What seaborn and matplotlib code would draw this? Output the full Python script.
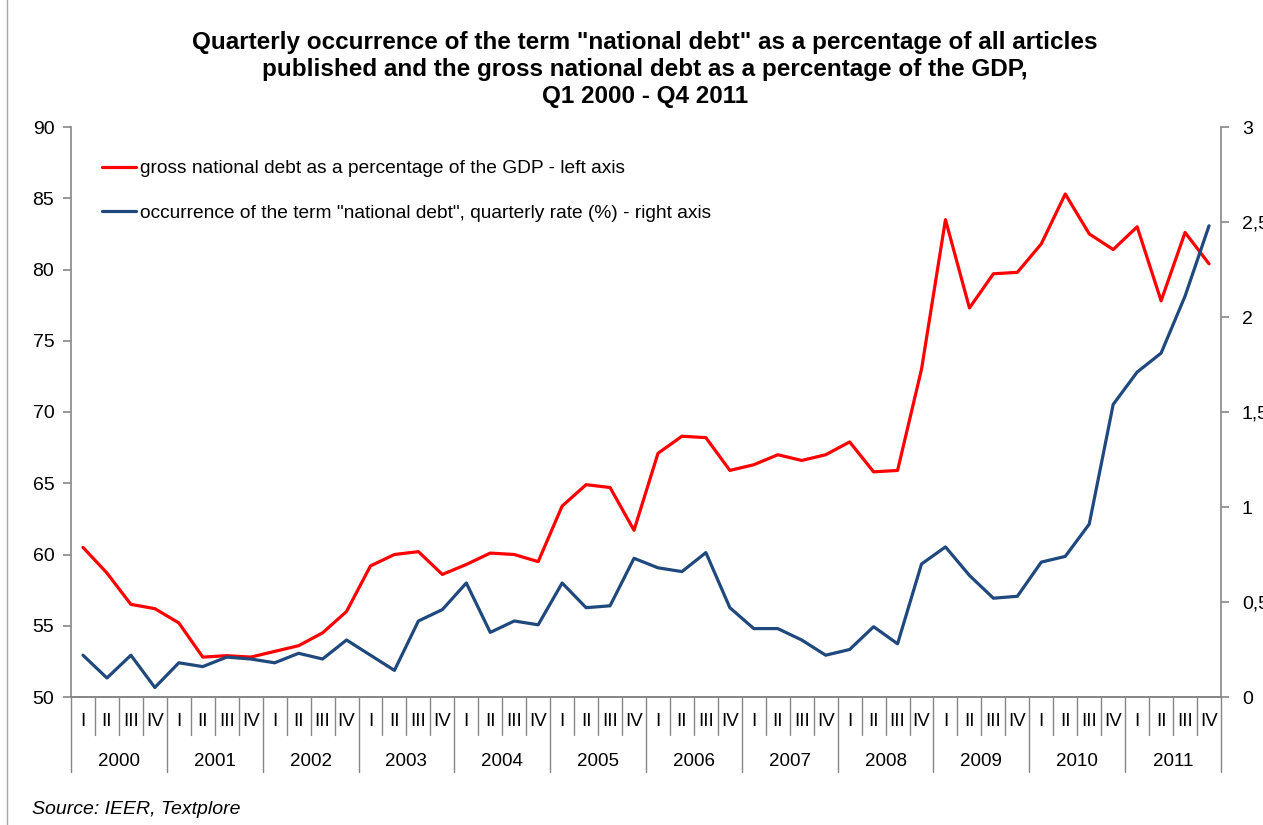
import matplotlib
matplotlib.use("Agg")
import matplotlib.pyplot as plt
import matplotlib.transforms as mtransforms
from matplotlib.lines import Line2D
import numpy as np
import pandas as pd
import seaborn as sns

# Quarterly series, Q1 2000 - Q4 2011
years = ["2000", "2001", "2002", "2003", "2004", "2005",
         "2006", "2007", "2008", "2009", "2010", "2011"]
quarters = ["I", "II", "III", "IV"]

debt_gdp = [60.5, 58.7, 56.5, 56.2, 55.2, 52.8, 52.9, 52.8,
            53.2, 53.6, 54.5, 56.0, 59.2, 60.0, 60.2, 58.6,
            59.3, 60.1, 60.0, 59.5, 63.4, 64.9, 64.7, 61.7,
            67.1, 68.3, 68.2, 65.9, 66.3, 67.0, 66.6, 67.0,
            67.9, 65.8, 65.9, 73.0, 83.5, 77.3, 79.7, 79.8,
            81.8, 85.3, 82.5, 81.4, 83.0, 77.8, 82.6, 80.4]

term_rate = [0.22, 0.10, 0.22, 0.05, 0.18, 0.16, 0.21, 0.20,
             0.18, 0.23, 0.20, 0.30, 0.22, 0.14, 0.40, 0.46,
             0.60, 0.34, 0.40, 0.38, 0.60, 0.47, 0.48, 0.73,
             0.68, 0.66, 0.76, 0.47, 0.36, 0.36, 0.30, 0.22,
             0.25, 0.37, 0.28, 0.70, 0.79, 0.64, 0.52, 0.53,
             0.71, 0.74, 0.91, 1.54, 1.71, 1.81, 2.11, 2.48]

left_ticks = [50, 55, 60, 65, 70, 75, 80, 85, 90]
right_ticks = [0, 0.5, 1, 1.5, 2, 2.5, 3]
right_tick_labels = ["0", "0,5", "1", "1,5", "2", "2,5", "3"]

label_debt = "gross national debt as a percentage of the GDP - left axis"
label_term = 'occurrence of the term "national debt", quarterly rate (%) - right axis'

df = pd.DataFrame({
    "q": np.arange(len(debt_gdp)),
    "debt": debt_gdp,
    "term": term_rate,
})

sns.set_style("white")
plt.rcParams["font.family"] = ["Liberation Sans", "DejaVu Sans"]
plt.rcParams["text.color"] = "black"
plt.rcParams["xtick.color"] = "black"
plt.rcParams["ytick.color"] = "black"

RED = "#FF0000"
BLUE = "#1F497D"
GREY = "#868686"

fig = plt.figure(figsize=(12.63, 8.25), dpi=100)
ax = fig.add_axes([71 / 1263, 1 - 697 / 825, 1150 / 1263, 570 / 825])
ax2 = ax.twinx()

sns.lineplot(data=df, x="q", y="debt", ax=ax, color=RED, linewidth=2.3,
             label=label_debt, legend=False)
sns.lineplot(data=df, x="q", y="term", ax=ax2, color=BLUE, linewidth=2.3,
             label=label_term, legend=False)

n = len(debt_gdp)
ax.set_xlim(-0.5, n - 0.5)
ax.set_ylim(50, 90)
ax2.set_ylim(0, 3)
ax.set_yticks(left_ticks)
ax.set_yticklabels([str(t) for t in left_ticks])
ax2.set_yticks(right_ticks)
ax2.set_yticklabels(right_tick_labels)
ax.set_xlabel("")
ax.set_ylabel("")
ax2.set_ylabel("")
ax.set_xticks([])
ax2.set_xticks([])

for a in (ax, ax2):
    a.spines["top"].set_visible(False)
    for s in a.spines.values():
        s.set_color(GREY)
        s.set_linewidth(1.2)
    a.grid(False)

ax.spines["right"].set_visible(False)
ax2.spines["left"].set_visible(False)
ax.tick_params(axis="y", left=True, direction="out", length=6, width=1.2,
               color=GREY, labelcolor="black", labelsize=14, pad=6)
ax2.tick_params(axis="y", right=True, direction="out", length=6, width=1.2,
                color=GREY, labelcolor="black", labelsize=14, pad=9)

# Two-level category axis: quarters above, years below
trans = mtransforms.blended_transform_factory(ax.transData, ax.transAxes)
q_sep = -38 / 570
y_sep = -75 / 570
for b in range(n + 1):
    xb = b - 0.5
    bottom = y_sep if b % 4 == 0 else q_sep
    ax.plot([xb, xb], [0, bottom], transform=trans, color=GREY,
            linewidth=1.0, clip_on=False)
for i in range(n):
    ax.text(i, -25 / 570, quarters[i % 4], transform=trans, ha="center",
            va="center", fontsize=13.5)
for k, yr in enumerate(years):
    ax.text(4 * k + 1.5, -65 / 570, yr, transform=trans, ha="center",
            va="center", fontsize=13.5)

h1, l1 = ax.get_legend_handles_labels()
h2, l2 = ax2.get_legend_handles_labels()
ax2.legend(h1 + h2, l1 + l2, loc="upper left",
           bbox_to_anchor=(0.027, 0.942), frameon=False, fontsize=13.8,
           borderpad=0, borderaxespad=0,
           handlelength=1.75, handletextpad=0.25, labelspacing=1.4)

fig.text(645 / 1263, 1 - 69.5 / 825,
         'Quarterly occurrence of the term "national debt" as a percentage of all articles\n'
         'published and the gross national debt as a percentage of the GDP,\n'
         'Q1 2000 - Q4 2011',
         ha="center", va="center", fontsize=17.5, fontweight="bold",
         linespacing=1.25)

fig.text(32 / 1263, 1 - 810 / 825, "Source: IEER, Textplore",
         ha="left", va="center", fontsize=14, style="italic")

# Left edge of the chart frame
fig.add_artist(Line2D([7 / 1263, 7 / 1263], [0, 1], transform=fig.transFigure,
                      color="#A6A6A6", linewidth=1.0))

fig.savefig("out.png", dpi=100)
